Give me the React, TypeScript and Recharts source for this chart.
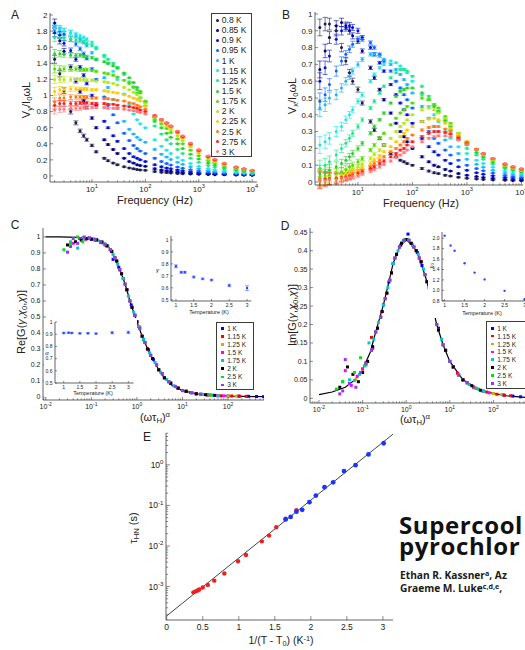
import React from "react";
import { ScatterChart, Scatter, XAxis, YAxis, ErrorBar } from "recharts";

const FONT = "'Liberation Sans', Arial, sans-serif";
const AX = "#3c3c3c";
const TXT = "#222";

// ---------- panels A and B: frequency sweeps ----------
const freqs = [2, 2.5, 3, 4, 5, 6, 7, 8, 10, 12, 17, 20, 25, 30, 40, 50, 60, 70, 80, 100, 150, 200, 250, 300, 400, 500, 700, 1000, 1500, 2000, 3000, 5000, 7000, 10000];
const tempsAB = ["0.8 K", "0.85 K", "0.9 K", "0.95 K", "1 K", "1.15 K", "1.25 K", "1.5 K", "1.75 K", "2 K", "2.25 K", "2.5 K", "2.75 K", "3 K"];
const colorsAB = ["#1c1c50", "#00008c", "#0010e0", "#0a64ff", "#1eb4ff", "#1ee6e6", "#1ee68c", "#28d228", "#50dc00", "#b4e61e", "#ffc800", "#ff7814", "#ff1e1e", "#ff7878"];
const errA = [0.05, 0.04, 0.035, 0.03, 0.025, 0.022, 0.02, 0.018, 0.015, 0.012, 0.01, 0.01, 0.008, 0.008, 0.007, 0.006, 0.006, 0.005, 0.005, 0.005, 0.008, 0.007, 0.006, 0.005, 0.005, 0.004, 0.004, 0.003, 0.003, 0.003, 0.003, 0.002, 0.002, 0.002];
const errB = [0.05, 0.04, 0.035, 0.03, 0.025, 0.022, 0.02, 0.018, 0.015, 0.012, 0.01, 0.01, 0.008, 0.007, 0.006, 0.005, 0.005, 0.005, 0.004, 0.004, 0.006, 0.005, 0.005, 0.004, 0.004, 0.003, 0.003, 0.003, 0.002, 0.002, 0.002, 0.002, 0.002, 0.002];

const vy080 = [1.45, 1.27, 1.06, 0.8, 0.66, 0.56, 0.5, 0.45, 0.38, 0.3, 0.22, 0.19, 0.16, 0.14, 0.115, 0.1, 0.09, 0.08, 0.075, 0.07, 0.055, 0.047, 0.042, 0.038, 0.032, 0.028, 0.024, 0.02, 0.018, 0.016, 0.014, 0.012, 0.011, 0.01];
const vy085 = [1.9, 1.68, 1.55, 1.35, 1.18, 1.05, 0.93, 0.85, 0.72, 0.6, 0.45, 0.39, 0.33, 0.28, 0.22, 0.18, 0.16, 0.14, 0.13, 0.12, 0.09, 0.075, 0.065, 0.058, 0.048, 0.042, 0.035, 0.029, 0.024, 0.021, 0.018, 0.015, 0.013, 0.012];
const vy090 = [1.78, 1.75, 1.65, 1.56, 1.45, 1.35, 1.25, 1.15, 1.0, 0.88, 0.68, 0.6, 0.5, 0.43, 0.34, 0.28, 0.24, 0.22, 0.2, 0.18, 0.14, 0.115, 0.1, 0.09, 0.075, 0.064, 0.052, 0.042, 0.034, 0.03, 0.025, 0.02, 0.018, 0.016];
const vy095 = [1.82, 1.8, 1.76, 1.7, 1.64, 1.58, 1.52, 1.46, 1.33, 1.2, 0.98, 0.88, 0.76, 0.66, 0.53, 0.44, 0.38, 0.34, 0.31, 0.28, 0.22, 0.18, 0.155, 0.135, 0.112, 0.096, 0.078, 0.062, 0.049, 0.042, 0.034, 0.027, 0.023, 0.02];
const vy100 = [1.85, 1.83, 1.8, 1.78, 1.74, 1.7, 1.66, 1.62, 1.53, 1.45, 1.22, 1.1, 0.95, 0.84, 0.68, 0.58, 0.52, 0.48, 0.45, 0.42, 0.33, 0.27, 0.235, 0.205, 0.17, 0.145, 0.115, 0.09, 0.07, 0.06, 0.048, 0.037, 0.031, 0.026];
const vy115 = [1.83, 1.82, 1.8, 1.78, 1.76, 1.74, 1.72, 1.7, 1.66, 1.6, 1.48, 1.4, 1.3, 1.2, 1.02, 0.88, 0.77, 0.7, 0.65, 0.6, 0.45, 0.37, 0.32, 0.28, 0.23, 0.195, 0.155, 0.12, 0.092, 0.078, 0.062, 0.047, 0.04, 0.033];
const vy125 = [1.72, 1.72, 1.71, 1.7, 1.69, 1.68, 1.67, 1.65, 1.62, 1.58, 1.5, 1.45, 1.4, 1.35, 1.26, 1.17, 1.1, 1.03, 0.97, 0.87, 0.62, 0.52, 0.45, 0.4, 0.33, 0.28, 0.22, 0.17, 0.13, 0.11, 0.088, 0.066, 0.056, 0.046];
const vy150 = [1.52, 1.52, 1.51, 1.5, 1.5, 1.5, 1.49, 1.48, 1.47, 1.45, 1.42, 1.4, 1.37, 1.34, 1.28, 1.22, 1.16, 1.1, 1.05, 0.92, 0.68, 0.6, 0.53, 0.48, 0.4, 0.34, 0.27, 0.21, 0.16, 0.135, 0.105, 0.078, 0.065, 0.052];
const vy175 = [1.33, 1.33, 1.33, 1.33, 1.33, 1.32, 1.32, 1.32, 1.31, 1.3, 1.28, 1.27, 1.25, 1.23, 1.19, 1.15, 1.11, 1.07, 1.03, 0.93, 0.71, 0.65, 0.59, 0.54, 0.46, 0.4, 0.32, 0.25, 0.19, 0.16, 0.125, 0.092, 0.076, 0.06];
const vy200 = [1.2, 1.2, 1.2, 1.2, 1.2, 1.2, 1.2, 1.19, 1.19, 1.18, 1.17, 1.16, 1.15, 1.13, 1.1, 1.07, 1.04, 1.01, 0.98, 0.9, 0.73, 0.67, 0.62, 0.57, 0.5, 0.44, 0.36, 0.28, 0.21, 0.175, 0.135, 0.098, 0.081, 0.064];
const vy225 = [1.05, 1.07, 1.07, 1.08, 1.08, 1.08, 1.08, 1.08, 1.07, 1.07, 1.06, 1.05, 1.04, 1.03, 1.01, 0.99, 0.97, 0.95, 0.93, 0.87, 0.74, 0.69, 0.64, 0.6, 0.53, 0.47, 0.38, 0.3, 0.23, 0.19, 0.145, 0.104, 0.085, 0.066];
const vy250 = [0.92, 0.97, 0.97, 0.98, 0.98, 0.98, 0.98, 0.98, 0.97, 0.97, 0.96, 0.96, 0.95, 0.94, 0.93, 0.91, 0.9, 0.88, 0.86, 0.83, 0.74, 0.7, 0.65, 0.61, 0.54, 0.48, 0.39, 0.31, 0.235, 0.195, 0.15, 0.107, 0.088, 0.068];
const vy275 = [0.88, 0.9, 0.9, 0.9, 0.9, 0.91, 0.91, 0.91, 0.9, 0.9, 0.9, 0.89, 0.89, 0.88, 0.87, 0.86, 0.85, 0.84, 0.82, 0.8, 0.75, 0.7, 0.66, 0.62, 0.55, 0.49, 0.4, 0.32, 0.24, 0.2, 0.155, 0.11, 0.09, 0.07];
const vy300 = [0.82, 0.83, 0.83, 0.84, 0.84, 0.84, 0.85, 0.85, 0.85, 0.85, 0.85, 0.84, 0.84, 0.84, 0.83, 0.82, 0.81, 0.8, 0.79, 0.77, 0.74, 0.7, 0.66, 0.62, 0.56, 0.5, 0.41, 0.33, 0.25, 0.21, 0.16, 0.115, 0.094, 0.072];

const vx080 = [0.92, 0.94, 0.94, 0.9, 0.8, 0.72, 0.65, 0.6, 0.55, 0.47, 0.36, 0.31, 0.26, 0.22, 0.17, 0.15, 0.13, 0.12, 0.11, 0.1, 0.08, 0.065, 0.055, 0.05, 0.04, 0.035, 0.028, 0.022, 0.018, 0.015, 0.012, 0.01, 0.008, 0.007];
const vx085 = [0.67, 0.78, 0.86, 0.93, 0.95, 0.93, 0.9, 0.87, 0.84, 0.78, 0.68, 0.62, 0.55, 0.49, 0.41, 0.35, 0.3, 0.27, 0.24, 0.2, 0.15, 0.12, 0.1, 0.09, 0.075, 0.065, 0.05, 0.04, 0.032, 0.027, 0.022, 0.017, 0.014, 0.012];
const vx090 = [0.6, 0.68, 0.75, 0.85, 0.9, 0.92, 0.93, 0.92, 0.9, 0.86, 0.8, 0.76, 0.71, 0.66, 0.58, 0.52, 0.47, 0.43, 0.4, 0.35, 0.26, 0.21, 0.18, 0.16, 0.13, 0.11, 0.09, 0.07, 0.055, 0.046, 0.037, 0.028, 0.024, 0.02];
const vx095 = [0.48, 0.52, 0.58, 0.66, 0.72, 0.76, 0.79, 0.82, 0.85, 0.85, 0.83, 0.8, 0.76, 0.72, 0.66, 0.6, 0.56, 0.52, 0.49, 0.44, 0.36, 0.3, 0.26, 0.23, 0.19, 0.16, 0.13, 0.1, 0.08, 0.067, 0.053, 0.04, 0.034, 0.028];
const vx100 = [0.44, 0.46, 0.5, 0.52, 0.56, 0.6, 0.63, 0.66, 0.7, 0.73, 0.76, 0.76, 0.75, 0.73, 0.7, 0.67, 0.64, 0.61, 0.58, 0.53, 0.45, 0.38, 0.33, 0.3, 0.25, 0.21, 0.17, 0.135, 0.105, 0.088, 0.07, 0.053, 0.045, 0.038];
const vx115 = [0.22, 0.24, 0.26, 0.3, 0.33, 0.37, 0.4, 0.43, 0.48, 0.52, 0.6, 0.64, 0.68, 0.7, 0.72, 0.71, 0.69, 0.67, 0.65, 0.6, 0.52, 0.45, 0.4, 0.36, 0.3, 0.26, 0.21, 0.17, 0.13, 0.11, 0.088, 0.066, 0.056, 0.047];
const vx125 = [0.08, 0.1, 0.12, 0.16, 0.2, 0.23, 0.26, 0.29, 0.33, 0.37, 0.44, 0.48, 0.53, 0.57, 0.62, 0.65, 0.67, 0.67, 0.66, 0.63, 0.57, 0.51, 0.46, 0.42, 0.36, 0.31, 0.25, 0.2, 0.16, 0.135, 0.107, 0.08, 0.068, 0.057];
const vx150 = [0.05, 0.06, 0.07, 0.09, 0.11, 0.13, 0.15, 0.17, 0.2, 0.23, 0.29, 0.33, 0.37, 0.41, 0.47, 0.51, 0.54, 0.55, 0.56, 0.56, 0.53, 0.49, 0.45, 0.42, 0.37, 0.33, 0.27, 0.22, 0.175, 0.148, 0.118, 0.088, 0.075, 0.063];
const vx175 = [0.03, 0.035, 0.04, 0.05, 0.06, 0.075, 0.09, 0.1, 0.12, 0.14, 0.19, 0.22, 0.26, 0.29, 0.34, 0.38, 0.41, 0.43, 0.45, 0.47, 0.5, 0.49, 0.46, 0.44, 0.39, 0.35, 0.29, 0.24, 0.19, 0.16, 0.13, 0.095, 0.08, 0.068];
const vx200 = [0.02, 0.025, 0.03, 0.035, 0.045, 0.055, 0.065, 0.075, 0.09, 0.105, 0.14, 0.165, 0.19, 0.22, 0.26, 0.3, 0.33, 0.35, 0.37, 0.4, 0.43, 0.44, 0.43, 0.41, 0.38, 0.34, 0.29, 0.24, 0.195, 0.165, 0.133, 0.098, 0.083, 0.07];
const vx225 = [0.02, 0.02, 0.025, 0.03, 0.035, 0.045, 0.05, 0.06, 0.07, 0.085, 0.11, 0.13, 0.155, 0.18, 0.21, 0.24, 0.27, 0.29, 0.31, 0.33, 0.36, 0.375, 0.38, 0.37, 0.35, 0.32, 0.28, 0.24, 0.195, 0.167, 0.135, 0.1, 0.085, 0.072];
const vx250 = [0.02, 0.02, 0.02, 0.025, 0.03, 0.035, 0.04, 0.05, 0.06, 0.07, 0.09, 0.11, 0.13, 0.15, 0.18, 0.2, 0.22, 0.24, 0.26, 0.28, 0.31, 0.325, 0.33, 0.33, 0.315, 0.3, 0.27, 0.235, 0.195, 0.168, 0.138, 0.103, 0.088, 0.075];
const vx275 = [0.01, 0.015, 0.02, 0.02, 0.025, 0.03, 0.035, 0.04, 0.05, 0.06, 0.08, 0.09, 0.11, 0.125, 0.15, 0.17, 0.19, 0.2, 0.22, 0.24, 0.27, 0.29, 0.3, 0.3, 0.295, 0.285, 0.26, 0.23, 0.195, 0.17, 0.14, 0.107, 0.09, 0.078];
const vx300 = [0.01, 0.01, 0.015, 0.015, 0.02, 0.025, 0.03, 0.035, 0.04, 0.05, 0.065, 0.075, 0.09, 0.105, 0.125, 0.145, 0.16, 0.175, 0.19, 0.21, 0.24, 0.26, 0.27, 0.275, 0.275, 0.27, 0.25, 0.225, 0.195, 0.17, 0.142, 0.11, 0.093, 0.08];

const vyAll = [vy080, vy085, vy090, vy095, vy100, vy115, vy125, vy150, vy175, vy200, vy225, vy250, vy275, vy300];
const vxAll = [vx080, vx085, vx090, vx095, vx100, vx115, vx125, vx150, vx175, vx200, vx225, vx250, vx275, vx300];

// ---------- panels C and D: scaled collapse ----------
const tempsCD = ["1 K", "1.15 K", "1.25 K", "1.5 K", "1.75 K", "2 K", "2.5 K", "3 K"];
const colorsCD = ["#0000ff", "#ff0000", "#c8b400", "#ff00ff", "#00c8c8", "#000000", "#00e600", "#9b30ff"];

const sx100 = [0.3, 0.4, 0.5, 0.6, 0.75, 0.9, 1.1, 1.4, 1.8, 2.3, 3, 4, 5.5, 8, 12, 20, 35, 60, 100, 170, 280, 420, 600];
const re100 = [0.86, 0.81, 0.74, 0.67, 0.575, 0.51, 0.44, 0.36, 0.295, 0.235, 0.17, 0.12, 0.088, 0.055, 0.036, 0.02, 0.013, 0.008, 0.006, 0.005, 0.004, 0.003, 0.002];
const im100 = [0.253, 0.315, 0.365, 0.39, 0.415, 0.428, 0.445, 0.415, 0.395, 0.36, 0.316, 0.26, 0.19, 0.13, 0.085, 0.05, 0.03, 0.019, 0.013, 0.009, 0.006, 0.004, 0.002];
const sx115 = [0.12, 0.16, 0.2, 0.26, 0.33, 0.42, 0.55, 0.7, 0.9, 1.15, 1.5, 2, 2.7, 3.6, 5, 7, 10, 15, 25, 40, 70, 120, 180, 250];
const re115 = [0.98, 0.965, 0.95, 0.92, 0.87, 0.795, 0.705, 0.6, 0.51, 0.43, 0.34, 0.26, 0.2, 0.145, 0.095, 0.065, 0.04, 0.028, 0.017, 0.012, 0.007, 0.006, 0.005, 0.004];
const im115 = [0.097, 0.165, 0.18, 0.22, 0.27, 0.32, 0.38, 0.41, 0.428, 0.428, 0.41, 0.38, 0.335, 0.28, 0.2, 0.145, 0.1, 0.068, 0.042, 0.027, 0.017, 0.011, 0.008, 0.007];
const sx125 = [0.07, 0.1, 0.13, 0.17, 0.22, 0.28, 0.36, 0.46, 0.6, 0.78, 1, 1.3, 1.7, 2.2, 3, 4, 5.5, 8, 12, 20, 35, 60, 100, 150];
const re125 = [0.99, 0.99, 0.983, 0.968, 0.945, 0.91, 0.85, 0.77, 0.67, 0.56, 0.47, 0.38, 0.3, 0.24, 0.17, 0.12, 0.085, 0.055, 0.035, 0.02, 0.013, 0.008, 0.006, 0.005];
const im125 = [0.052, 0.078, 0.1, 0.135, 0.19, 0.235, 0.285, 0.34, 0.39, 0.42, 0.43, 0.42, 0.4, 0.37, 0.316, 0.26, 0.185, 0.13, 0.085, 0.05, 0.03, 0.019, 0.013, 0.01];
const sx150 = [0.04, 0.055, 0.075, 0.1, 0.13, 0.17, 0.22, 0.28, 0.36, 0.46, 0.6, 0.78, 1, 1.3, 1.7, 2.2, 3, 4, 5.5, 8, 12, 20, 35, 55, 80];
const re150 = [0.96, 0.99, 0.985, 0.99, 0.982, 0.968, 0.945, 0.91, 0.85, 0.77, 0.67, 0.56, 0.47, 0.38, 0.3, 0.24, 0.17, 0.12, 0.085, 0.055, 0.035, 0.02, 0.013, 0.009, 0.007];
const im150 = [0.075, 0.035, 0.06, 0.08, 0.1, 0.135, 0.19, 0.235, 0.285, 0.34, 0.39, 0.42, 0.43, 0.42, 0.4, 0.37, 0.316, 0.26, 0.185, 0.13, 0.085, 0.05, 0.03, 0.02, 0.015];
const sx175 = [0.035, 0.05, 0.065, 0.085, 0.11, 0.14, 0.18, 0.23, 0.3, 0.38, 0.5, 0.65, 0.85, 1.1, 1.4, 1.9, 2.5, 3.3, 4.5, 6.5, 10, 16, 28, 45, 60];
const re175 = [0.97, 0.93, 0.995, 0.99, 0.988, 0.978, 0.962, 0.94, 0.89, 0.83, 0.74, 0.63, 0.53, 0.44, 0.36, 0.275, 0.215, 0.155, 0.11, 0.07, 0.04, 0.026, 0.016, 0.011, 0.008];
const im175 = [0.045, 0.05, 0.048, 0.065, 0.088, 0.15, 0.16, 0.205, 0.253, 0.3, 0.365, 0.4, 0.425, 0.43, 0.415, 0.39, 0.35, 0.3, 0.23, 0.16, 0.1, 0.063, 0.037, 0.025, 0.019];
const sx200 = [0.03, 0.045, 0.06, 0.08, 0.1, 0.13, 0.17, 0.22, 0.28, 0.36, 0.46, 0.6, 0.78, 1, 1.3, 1.7, 2.2, 3, 4, 5.5, 8, 12, 20, 32, 50];
const re200 = [0.95, 0.97, 0.98, 0.99, 0.985, 0.982, 0.968, 0.945, 0.91, 0.85, 0.77, 0.67, 0.56, 0.47, 0.38, 0.3, 0.24, 0.17, 0.12, 0.085, 0.055, 0.035, 0.02, 0.014, 0.01];
const im200 = [0.03, 0.085, 0.065, 0.045, 0.07, 0.1, 0.14, 0.19, 0.235, 0.285, 0.34, 0.39, 0.42, 0.43, 0.42, 0.4, 0.37, 0.316, 0.26, 0.185, 0.13, 0.085, 0.05, 0.034, 0.022];
const sx250 = [0.025, 0.035, 0.05, 0.065, 0.09, 0.12, 0.16, 0.2, 0.26, 0.33, 0.42, 0.55, 0.7, 0.9, 1.15, 1.5, 2, 2.7, 3.6, 5, 7, 10, 16, 25, 40];
const re250 = [0.92, 0.96, 1.0, 0.97, 0.995, 0.985, 0.97, 0.955, 0.92, 0.87, 0.795, 0.705, 0.6, 0.51, 0.43, 0.34, 0.26, 0.2, 0.145, 0.095, 0.065, 0.04, 0.026, 0.017, 0.012];
const im250 = [0.025, 0.045, 0.04, 0.07, 0.11, 0.09, 0.13, 0.18, 0.22, 0.27, 0.32, 0.38, 0.41, 0.428, 0.428, 0.41, 0.38, 0.335, 0.28, 0.2, 0.145, 0.1, 0.063, 0.042, 0.027];
const sx300 = [0.03, 0.035, 0.04, 0.05, 0.07, 0.09, 0.12, 0.16, 0.2, 0.26, 0.33, 0.42, 0.55, 0.7, 0.9, 1.15, 1.5, 2, 2.7, 3.6, 5, 7, 10, 16, 25];
const re300 = [0.905, 0.94, 0.99, 0.96, 1.0, 0.995, 0.985, 0.97, 0.955, 0.92, 0.87, 0.795, 0.705, 0.6, 0.51, 0.43, 0.34, 0.26, 0.2, 0.145, 0.095, 0.065, 0.04, 0.026, 0.017];
const im300 = [0.012, 0.02, 0.105, 0.04, 0.03, 0.07, 0.095, 0.13, 0.18, 0.22, 0.27, 0.32, 0.38, 0.41, 0.428, 0.428, 0.41, 0.38, 0.335, 0.28, 0.2, 0.145, 0.1, 0.063, 0.042];

const sxAll = [sx100, sx115, sx125, sx150, sx175, sx200, sx250, sx300];
const reAll = [re100, re115, re125, re150, re175, re200, re250, re300];
const imAll = [im100, im115, im125, im150, im175, im200, im250, im300];

const fitCx = [0.01, 0.02, 0.05, 0.1, 0.15, 0.2, 0.25, 0.3, 0.4, 0.5, 0.6, 0.7, 0.8, 1, 1.3, 1.6, 2, 3, 4, 6, 10, 20, 50, 100, 200, 600];
const fitCre = [1.0, 1.0, 0.998, 0.99, 0.975, 0.955, 0.93, 0.89, 0.81, 0.74, 0.67, 0.6, 0.55, 0.47, 0.38, 0.32, 0.26, 0.17, 0.12, 0.07, 0.04, 0.02, 0.01, 0.006, 0.004, 0.002];
const fitDx = [0.01, 0.02, 0.04, 0.07, 0.1, 0.15, 0.2, 0.3, 0.4, 0.5, 0.7, 1, 1.5, 2, 3, 5, 7, 10, 20, 50, 100, 200, 600];
const fitDim = [0.01, 0.017, 0.03, 0.052, 0.078, 0.125, 0.18, 0.253, 0.315, 0.365, 0.41, 0.43, 0.41, 0.38, 0.316, 0.2, 0.145, 0.1, 0.05, 0.022, 0.013, 0.007, 0.002];

// insets
const insetT = [1, 1.15, 1.25, 1.5, 1.75, 2, 2.5, 3];
const gammaVals = [0.78, 0.73, 0.73, 0.69, 0.675, 0.665, 0.62, 0.598];
const gammaErr = [0.012, 0.008, 0.008, 0.008, 0.007, 0.007, 0.01, 0.02];
const alphaVals = [0.91, 0.912, 0.91, 0.907, 0.908, 0.905, 0.912, 0.915];
const alphaErr = [0.006, 0.005, 0.005, 0.005, 0.005, 0.005, 0.008, 0.01];
const chi0Vals = [2.05, 1.86, 1.76, 1.52, 1.34, 1.21, 0.99, 0.83];

// ---------- panel E ----------
const redX = [0.37, 0.4, 0.43, 0.45, 0.5, 0.57, 0.66, 0.8, 0.99, 1.1, 1.32, 1.42, 1.52, 1.65, 1.8];
const redY = [7.2e-4, 7.6e-4, 8.0e-4, 8.5e-4, 9.5e-4, 1.1e-3, 1.4e-3, 2.1e-3, 4.2e-3, 6.0e-3, 0.013, 0.018, 0.029, 0.047, 0.076];
const blueX = [1.65, 1.72, 1.8, 1.88, 1.98, 2.07, 2.19, 2.31, 2.46, 2.62, 2.8, 3.01];
const blueY = [0.045, 0.052, 0.07, 0.078, 0.12, 0.175, 0.28, 0.37, 0.7, 0.98, 1.8, 3.4];
const fitEx = [0, 3.14];
const fitEy = [1.9e-4, 5.7];

// ---------- tick sets ----------
const freqTicks = [10, 100, 1000, 10000];
const scaledTicks = [0.01, 0.1, 1, 10, 100];
const tauTicks = [0.001, 0.01, 0.1, 1];
const invTTicks = [0, 0.5, 1, 1.5, 2, 2.5, 3];
const tempTicks = [1, 1.5, 2, 2.5, 3];

type Side = "b" | "l" | "t" | "r";
type AxisCfg = {
  domain: [number, number];
  ticks: number[];
  minor?: number[];
  log?: boolean;
  fs: number;
  len?: number;
  gap?: number;
  fmt?: (v: number, fs: number) => React.ReactNode;
};

const fmtNum = (v: number) => String(Number(v.toFixed(3)));
const fmtPow = (v: number, fs: number) => (
  <>
    10<tspan dy={-fs * 0.45} fontSize={fs * 0.72}>{Math.round(Math.log10(v))}</tspan>
  </>
);

function minorLog(decades: number[], domain: [number, number]) {
  const out: number[] = [];
  decades.forEach((d) => {
    for (let k = 2; k <= 9; k++) {
      const v = d * k;
      if (v >= domain[0] && v <= domain[1]) out.push(v);
    }
  });
  return out;
}

function tickFn(side: Side, c: AxisCfg, withLabel: boolean) {
  const len = c.len ?? 3;
  const gap = c.gap ?? 2;
  return (p: any) => {
    const v = Number(p.payload?.value);
    const major = c.ticks.some((t) => Math.abs(t - v) <= Math.abs(t) * 1e-6 + 1e-12);
    const l = major ? len : len * 0.55;
    const fs = c.fs;
    const lab = withLabel && major ? (c.fmt ? c.fmt(v, fs) : fmtNum(v)) : null;
    const ts = { fontSize: fs, fontFamily: FONT, fill: TXT };
    if (side === "b")
      return (
        <g>
          <line x1={p.x} x2={p.x} y1={p.y} y2={p.y - l} stroke={AX} strokeWidth={0.6} />
          {lab !== null && (
            <text x={p.x} y={p.y + fs + gap} textAnchor="middle" {...ts}>
              {lab}
            </text>
          )}
        </g>
      );
    if (side === "t") return <line x1={p.x} x2={p.x} y1={p.y} y2={p.y + l} stroke={AX} strokeWidth={0.6} />;
    if (side === "l")
      return (
        <g>
          <line x1={p.x} x2={p.x + l} y1={p.y} y2={p.y} stroke={AX} strokeWidth={0.6} />
          {lab !== null && (
            <text x={p.x - 2.5} y={p.y + fs * 0.36} textAnchor="end" {...ts}>
              {lab}
            </text>
          )}
        </g>
      );
    return <line x1={p.x} x2={p.x - l} y1={p.y} y2={p.y} stroke={AX} strokeWidth={0.6} />;
  };
}

function axes(xc: AxisCfg, yc: AxisCfg, xH: number, yW: number) {
  const base = {
    type: "number" as const,
    allowDataOverflow: true,
    tickLine: false,
    tickSize: 0,
    tickMargin: 0,
    interval: 0 as const,
    axisLine: { stroke: AX, strokeWidth: 0.8 },
  };
  const xt = [...xc.ticks, ...(xc.minor ?? [])];
  const yt = [...yc.ticks, ...(yc.minor ?? [])];
  const xs = xc.log ? "log" : "linear";
  const ys = yc.log ? "log" : "linear";
  return [
    <XAxis key="xb" xAxisId="b" dataKey="x" scale={xs} domain={xc.domain} ticks={xt} height={xH} tick={tickFn("b", xc, true)} {...base} />,
    <XAxis key="xt" xAxisId="t" orientation="top" dataKey="x" scale={xs} domain={xc.domain} ticks={xt} height={0} tick={tickFn("t", xc, false)} {...base} />,
    <YAxis key="yl" yAxisId="l" dataKey="y" scale={ys} domain={yc.domain} ticks={yt} width={yW} tick={tickFn("l", yc, true)} {...base} />,
    <YAxis key="yr" yAxisId="r" orientation="right" dataKey="y" scale={ys} domain={yc.domain} ticks={yt} width={0} tick={tickFn("r", yc, false)} {...base} />,
  ];
}

type Box = { x0: number; y0: number; x1: number; y1: number };

function Plot({ box, yW, xH, padT = 8, padR = 12, children }: { box: Box; yW: number; xH: number; padT?: number; padR?: number; children: React.ReactNode }) {
  const width = box.x1 - box.x0 + yW + padR;
  const height = box.y1 - box.y0 + padT + xH;
  return (
    <div style={{ position: "absolute", left: box.x0 - yW, top: box.y0 - padT }}>
      <ScatterChart width={width} height={height} margin={{ top: padT, right: padR, bottom: 0, left: 0 }}>
        {children}
      </ScatterChart>
    </div>
  );
}

const dot = (c: string, r: number) => (p: any) => <circle cx={p.cx} cy={p.cy} r={r} fill={c} />;
const square = (c: string, s: number) => (p: any) => <rect x={p.cx - s / 2} y={p.cy - s / 2} width={s} height={s} fill={c} />;
const none = () => <g />;

function rows(xs: number[], ys: number[], es?: number[]) {
  return xs.map((x, i) => ({ x, y: ys[i], e: es ? es[i] : 0 }));
}

function Label({ x, y, size, rot = 0, children, style }: { x: number; y: number; size: number; rot?: number; children: React.ReactNode; style?: React.CSSProperties }) {
  return (
    <div
      style={{
        position: "absolute",
        left: x,
        top: y,
        transform: `translate(-50%, -50%) rotate(${rot}deg)`,
        fontSize: size,
        lineHeight: 1,
        whiteSpace: "nowrap",
        color: TXT,
        fontFamily: FONT,
        ...style,
      }}
    >
      {children}
    </div>
  );
}

function LegendBox({ x, y, w, h, fs, rowH, padTop, items, marker, ml, mr, round }: { x: number; y: number; w: number; h: number; fs: number; rowH: number; padTop: number; items: [string, string][]; marker: number; ml: number; mr: number; round: boolean }) {
  return (
    <div style={{ position: "absolute", left: x, top: y, width: w, height: h, border: `1px solid ${AX}`, background: "#fff", boxSizing: "border-box", paddingTop: padTop, fontFamily: FONT, fontSize: fs, color: TXT }}>
      {items.map(([label, color]) => (
        <div key={label} style={{ height: rowH, display: "flex", alignItems: "center", whiteSpace: "nowrap" }}>
          <span style={{ display: "inline-block", width: marker, height: marker, borderRadius: round ? marker / 2 : 0, background: color, marginLeft: ml, marginRight: mr, flexShrink: 0 }} />
          {label}
        </div>
      ))}
    </div>
  );
}

const sub = (t: string) => <sub style={{ fontSize: "0.7em", verticalAlign: "-0.25em" }}>{t}</sub>;
const sup = (t: string) => <sup style={{ fontSize: "0.7em", verticalAlign: "0.45em" }}>{t}</sup>;

export default function App() {
  // A
  const boxA: Box = { x0: 50, y0: 13, x1: 257, y1: 182 };
  const xA: AxisCfg = { domain: [1.64, 12300], ticks: freqTicks, minor: minorLog([1, 10, 100, 1000], [1.64, 12300]), log: true, fs: 8, fmt: fmtPow };
  const yA: AxisCfg = { domain: [-0.075, 2.025], ticks: [0, 0.2, 0.4, 0.6, 0.8, 1, 1.2, 1.4, 1.6, 1.8, 2], fs: 8 };
  // B
  const boxB: Box = { x0: 315, y0: 12, x1: 523, y1: 185 };
  const xB: AxisCfg = { domain: [1.63, 10700], ticks: freqTicks, minor: minorLog([1, 10, 100, 1000], [1.63, 10700]), log: true, fs: 8, fmt: fmtPow };
  const yB: AxisCfg = { domain: [-0.018, 1.012], ticks: [0, 0.1, 0.2, 0.3, 0.4, 0.5, 0.6, 0.7, 0.8, 0.9, 1], fs: 8 };
  // C
  const boxC: Box = { x0: 43, y0: 228, x1: 264, y1: 400 };
  const xC: AxisCfg = { domain: [0.0087, 612], ticks: scaledTicks, minor: minorLog([0.001, 0.01, 0.1, 1, 10, 100], [0.0087, 612]), log: true, fs: 7, fmt: fmtPow };
  const yC: AxisCfg = { domain: [-0.019, 1.056], ticks: [0, 0.1, 0.2, 0.3, 0.4, 0.5, 0.6, 0.7, 0.8, 0.9, 1], fs: 7 };
  // D
  const boxD: Box = { x0: 310, y0: 228, x1: 527, y1: 403 };
  const xD: AxisCfg = { domain: [0.00622, 589], ticks: scaledTicks, minor: minorLog([0.001, 0.01, 0.1, 1, 10, 100], [0.00622, 589]), log: true, fs: 7, fmt: fmtPow };
  const yD: AxisCfg = { domain: [-0.0127, 0.4615], ticks: [0, 0.05, 0.1, 0.15, 0.2, 0.25, 0.3, 0.35, 0.4, 0.45], fs: 7 };
  // E
  const boxE: Box = { x0: 166, y0: 433, x1: 393, y1: 620 };
  const xE: AxisCfg = { domain: [-0.01, 3.14], ticks: invTTicks, fs: 8.5, len: 4, gap: 1 };
  const yE: AxisCfg = { domain: [1.5e-4, 6.08], ticks: tauTicks, minor: minorLog([1e-4, 1e-3, 1e-2, 1e-1, 1], [1.5e-4, 6.08]), log: true, fs: 8.5, fmt: fmtPow, len: 4 };
  // insets
  const boxG: Box = { x0: 170.7, y0: 236, x1: 251, y1: 301 };
  const xG: AxisCfg = { domain: [0.86, 3.12], ticks: tempTicks, fs: 5, len: 2, gap: 0.8 };
  const yG: AxisCfg = { domain: [0.49, 1.033], ticks: [0.5, 0.6, 0.7, 0.8, 0.9, 1], fs: 5, len: 2 };
  const boxAl: Box = { x0: 54.5, y0: 322, x1: 133, y1: 383 };
  const xAl: AxisCfg = { domain: [0.73, 3.16], ticks: tempTicks, fs: 5, len: 2, gap: 0.8 };
  const yAl: AxisCfg = { domain: [0.5, 1.0], ticks: [0.5, 0.6, 0.7, 0.8, 0.9, 1], fs: 5, len: 2 };
  const boxX: Box = { x0: 442, y0: 232, x1: 528.6, y1: 301 };
  const xX: AxisCfg = { domain: [0.935, 3.1], ticks: tempTicks, fs: 5, len: 2, gap: 0.8 };
  const yX: AxisCfg = { domain: [0.795, 2.12], ticks: [0.8, 1, 1.2, 1.4, 1.6, 1.8, 2], fs: 5, len: 2, fmt: (v) => v.toFixed(1) };

  const ids = { xAxisId: "b", yAxisId: "l" };

  return (
    <div style={{ position: "absolute", left: 0, top: 0, width: 525, height: 650, overflow: "hidden", background: "#fff", fontFamily: FONT }}>
      {/* A */}
      <Plot box={boxA} yW={24} xH={16}>
        {axes(xA, yA, 16, 24)}
        {vyAll.map((ys, i) => (
          <Scatter key={tempsAB[i]} {...ids} data={rows(freqs, ys, errA)} fill={colorsAB[i]} shape={dot(colorsAB[i], 1.5)} isAnimationActive={false}>
            <ErrorBar dataKey="e" direction="y" width={2.5} stroke={colorsAB[i]} strokeWidth={0.6} isAnimationActive={false} />
          </Scatter>
        ))}
      </Plot>
      <LegendBox x={211} y={13} w={41} h={144} fs={8.5} rowH={10.15} padTop={1} items={tempsAB.map((t, i) => [t, colorsAB[i]])} marker={3} ml={3.8} mr={3} round />
      <Label x={15} y={15} size={12}>A</Label>
      <Label x={27} y={100} size={11} rot={-90}>V{sub("y")}/I{sub("0")}ωL</Label>
      <Label x={155} y={200} size={11}>Frequency (Hz)</Label>

      {/* B */}
      <Plot box={boxB} yW={20} xH={16} padR={14}>
        {axes(xB, yB, 16, 20)}
        {vxAll.map((ys, i) => (
          <Scatter key={tempsAB[i]} {...ids} data={rows(freqs, ys, errB)} fill={colorsAB[i]} shape={dot(colorsAB[i], 1.5)} isAnimationActive={false}>
            <ErrorBar dataKey="e" direction="y" width={2.5} stroke={colorsAB[i]} strokeWidth={0.6} isAnimationActive={false} />
          </Scatter>
        ))}
      </Plot>
      <Label x={286} y={15} size={12}>B</Label>
      <Label x={293} y={96} size={11} rot={-90}>V{sub("x")}/I{sub("0")}ωL</Label>
      <Label x={421} y={203} size={11}>Frequency (Hz)</Label>

      {/* C */}
      <Plot box={boxC} yW={20} xH={14}>
        {axes(xC, yC, 14, 20)}
        <Scatter {...ids} data={rows(fitCx, fitCre)} shape={none} line={{ stroke: "#000", strokeWidth: 1.2 }} isAnimationActive={false} />
        {sxAll.map((xs, i) => (
          <Scatter key={tempsCD[i]} {...ids} data={rows(xs, reAll[i])} fill={colorsCD[i]} shape={square(colorsCD[i], 3)} isAnimationActive={false} />
        ))}
      </Plot>
      <div style={{ position: "absolute", left: 154, top: 233, width: 100, height: 86, background: "#fff" }} />
      <Plot box={boxG} yW={10} xH={9} padT={4} padR={4}>
        {axes(xG, yG, 9, 10)}
        <Scatter {...ids} data={rows(insetT, gammaVals, gammaErr)} shape={dot("#2a4bff", 1.2)} isAnimationActive={false}>
          <ErrorBar dataKey="e" direction="y" width={2} stroke="#2a4bff" strokeWidth={0.5} isAnimationActive={false} />
        </Scatter>
      </Plot>
      <Label x={157.5} y={270} size={6} style={{ fontStyle: "italic" }}>γ</Label>
      <Label x={209} y={312.5} size={5.5}>Temperature (K)</Label>
      <div style={{ position: "absolute", left: 44, top: 318, width: 93, height: 79, background: "#fff" }} />
      <Plot box={boxAl} yW={10} xH={9} padT={4} padR={4}>
        {axes(xAl, yAl, 9, 10)}
        <Scatter {...ids} data={rows(insetT, alphaVals, alphaErr)} shape={dot("#2a4bff", 1.2)} isAnimationActive={false}>
          <ErrorBar dataKey="e" direction="y" width={2} stroke="#2a4bff" strokeWidth={0.5} isAnimationActive={false} />
        </Scatter>
      </Plot>
      <Label x={47} y={353} size={6} style={{ fontStyle: "italic" }}>α</Label>
      <Label x={93} y={394} size={5.5}>Temperature (K)</Label>
      <LegendBox x={216} y={322} w={38} h={68} fs={6.5} rowH={8.06} padTop={1.5} items={tempsCD.map((t, i) => [t, colorsCD[i]])} marker={2.6} ml={4} mr={3.6} round={false} />
      <Label x={15} y={225} size={12}>C</Label>
      <Label x={22} y={322} size={11} rot={-90}>
        Re[G(<i>γ</i>,<i>χ</i>{sub("0")},<i>χ</i>)]
      </Label>
      <Label x={155} y={418} size={11}>
        (ωτ{sub("H")}){sup("α")}
      </Label>

      {/* D */}
      <Plot box={boxD} yW={22} xH={14}>
        {axes(xD, yD, 14, 22)}
        <Scatter {...ids} data={rows(fitDx, fitDim)} shape={none} line={{ stroke: "#000", strokeWidth: 1.2 }} isAnimationActive={false} />
        {sxAll.map((xs, i) => (
          <Scatter key={tempsCD[i]} {...ids} data={rows(xs, imAll[i])} fill={colorsCD[i]} shape={square(colorsCD[i], 3)} isAnimationActive={false} />
        ))}
      </Plot>
      <div style={{ position: "absolute", left: 428, top: 229, width: 100, height: 89, background: "#fff" }} />
      <Plot box={boxX} yW={10} xH={9} padT={4} padR={4}>
        {axes(xX, yX, 9, 10)}
        <Scatter {...ids} data={rows(insetT, chi0Vals)} shape={dot("#2a4bff", 1.2)} isAnimationActive={false} />
      </Plot>
      <Label x={432} y={266} size={6} rot={-90}>
        <i>χ</i>{sub("0")}
      </Label>
      <Label x={482} y={313.5} size={5.5}>Temperature (K)</Label>
      <LegendBox x={486} y={321} w={42} h={68} fs={6.5} rowH={7.86} padTop={2.4} items={tempsCD.map((t, i) => [t, colorsCD[i]])} marker={2.6} ml={4} mr={3.6} round={false} />
      <Label x={285} y={226} size={12}>D</Label>
      <Label x={293} y={315} size={11} rot={-90}>
        Im[G(<i>γ</i>,<i>χ</i>{sub("0")},<i>χ</i>)]
      </Label>
      <Label x={415} y={420} size={11}>
        (ωτ{sub("H")}){sup("α")}
      </Label>

      {/* E */}
      <Plot box={boxE} yW={28} xH={14} padR={6}>
        {axes(xE, yE, 14, 28)}
        <Scatter {...ids} data={rows(fitEx, fitEy)} shape={none} line={{ stroke: "#444", strokeWidth: 1 }} isAnimationActive={false} />
        <Scatter {...ids} data={rows(redX, redY)} shape={dot("#f01e1e", 2.2)} isAnimationActive={false} />
        <Scatter {...ids} data={rows(blueX, blueY)} shape={dot("#1a34ff", 2.4)} isAnimationActive={false} />
      </Plot>
      <Label x={147} y={437} size={12}>E</Label>
      <Label x={134} y={528} size={11} rot={-90}>
        τ{sub("HN")} (s)
      </Label>
      <Label x={281} y={641} size={10.5}>
        1/(T - T{sub("0")}) (K{sup("-1")})
      </Label>

      {/* paper header */}
      <div style={{ position: "absolute", left: 399, top: 514, fontFamily: "'Open Sans', sans-serif", fontWeight: 700, fontSize: 24, lineHeight: "21px", letterSpacing: 0.6, color: "#111", whiteSpace: "nowrap" }}>
        Supercool
        <br />
        pyrochlor
      </div>
      <div style={{ position: "absolute", left: 400, top: 567.5, fontFamily: "'Open Sans', sans-serif", fontWeight: 700, fontSize: 10.2, lineHeight: "11px", color: "#1a1a1a", whiteSpace: "nowrap" }}>
        Ethan R. Kassner{sup("a")}, Az
        <br />
        Graeme M. Luke{sup("c,d,e")},
      </div>
    </div>
  );
}
